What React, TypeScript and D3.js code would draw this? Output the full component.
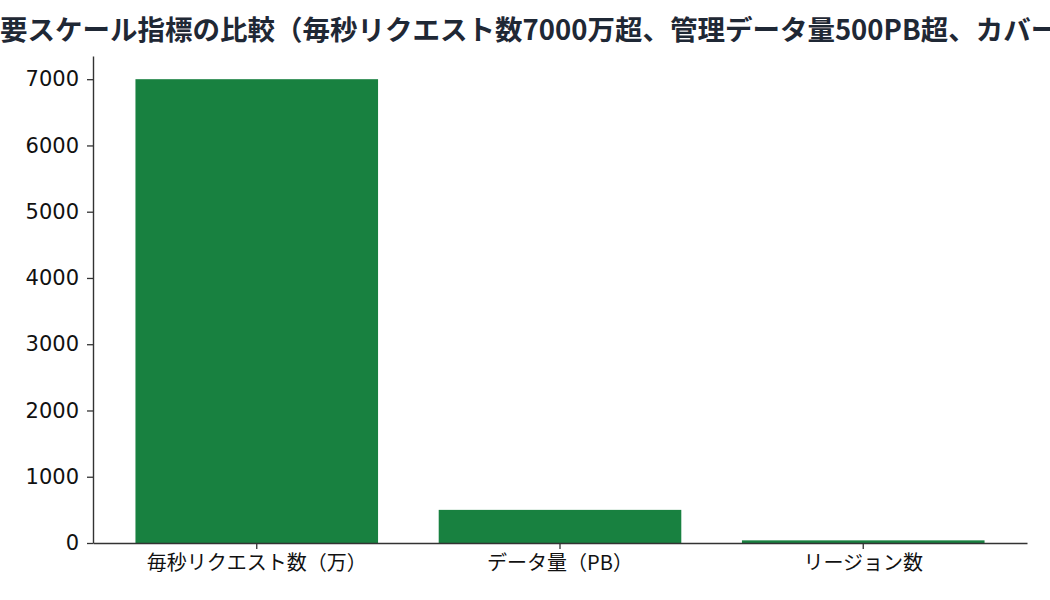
import React, { useEffect, useRef } from "react";
import * as d3 from "d3";

// チャートのデータ
const categories = ["毎秒リクエスト数（万）", "データ量（PB）", "リージョン数"];
const values = [7000, 500, 40];
const yTicks = [0, 1000, 2000, 3000, 4000, 5000, 6000, 7000];
const title =
  "主要スケール指標の比較（毎秒リクエスト数7000万超、管理データ量500PB超、カバーリージョン40超）";

const width = 1050;
const height = 600;
const margin = { top: 56, right: 23, bottom: 57, left: 93 };
const barColor = "#188140";
const cjkFont = "'Noto Sans CJK JP', 'Noto Sans', sans-serif";
const numFont = "'DejaVu Sans', 'Noto Sans CJK JP', sans-serif";

const App: React.FC = () => {
  const chartRef = useRef<SVGSVGElement | null>(null);

  useEffect(() => {
    const svg = d3.select(chartRef.current);
    svg.selectAll("*").remove();

    const x = d3
      .scaleBand<string>()
      .domain(categories)
      .range([margin.left, width - margin.right])
      .paddingInner(0.2)
      .paddingOuter(0.14);

    const y = d3
      .scaleLinear()
      .domain([0, (d3.max(values) ?? 0) * 1.05])
      .range([height - margin.bottom, margin.top]);

    // 棒
    svg
      .append("g")
      .selectAll("rect")
      .data(values)
      .join("rect")
      .attr("x", (_, i) => x(categories[i]) ?? 0)
      .attr("y", (d) => y(d))
      .attr("width", x.bandwidth())
      .attr("height", (d) => y(0) - y(d))
      .attr("fill", barColor);

    // 坐標軸
    const yAxis = svg
      .append("g")
      .attr("transform", `translate(${margin.left},0)`)
      .call(
        d3
          .axisLeft(y)
          .tickValues(yTicks)
          .tickFormat(d3.format("d"))
          .tickSize(6)
          .tickPadding(8)
          .tickSizeOuter(0)
      );

    const xAxis = svg
      .append("g")
      .attr("transform", `translate(0,${height - margin.bottom})`)
      .call(d3.axisBottom(x).tickSize(6).tickPadding(7).tickSizeOuter(0));

    [yAxis, xAxis].forEach((g) => {
      g.select(".domain").attr("stroke", "#333").attr("stroke-width", 1.4);
      g.selectAll(".tick line").attr("stroke", "#333").attr("stroke-width", 1.3);
    });
    yAxis
      .selectAll(".tick text")
      .attr("fill", "#111")
      .style("font-family", numFont)
      .style("font-size", "21px");
    xAxis
      .selectAll(".tick text")
      .attr("fill", "#111")
      .style("font-family", cjkFont)
      .style("font-size", "20px");

    // タイトル（先頭の一文字は左端の外にはみ出る）
    svg
      .append("text")
      .attr("x", -27.5)
      .attr("y", 40)
      .attr("text-anchor", "start")
      .attr("fill", "#1f2835")
      .style("font-family", cjkFont)
      .style("font-size", "27.5px")
      .style("font-weight", "bold")
      .text(title);
  }, []);

  return (
    <svg
      ref={chartRef}
      width={width}
      height={height}
      style={{ position: "absolute", left: 0, top: 0, background: "#fff" }}
    ></svg>
  );
};

export default App;
